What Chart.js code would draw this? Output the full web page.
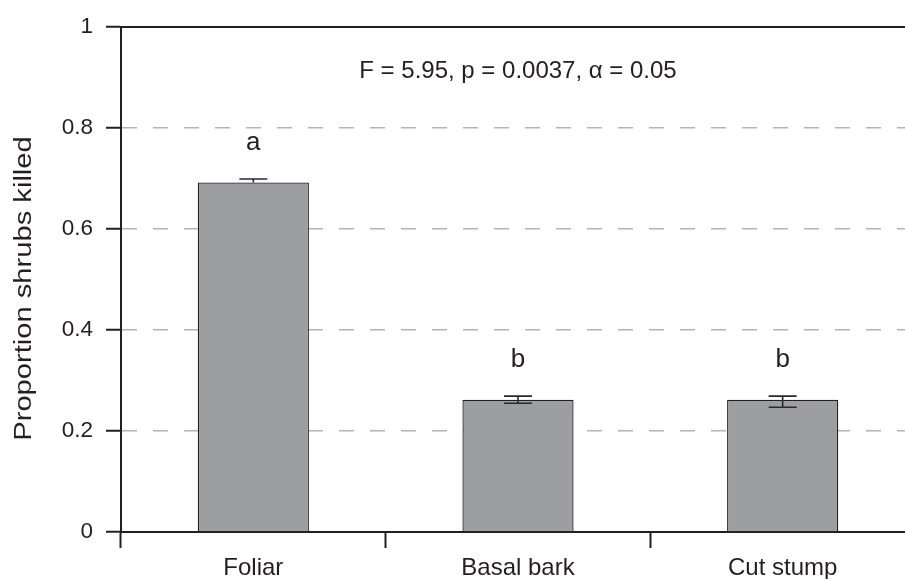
<!DOCTYPE html>
<html>
<head>
<meta charset="utf-8">
<script src="https://cdn.jsdelivr.net/npm/chart.js@4/dist/chart.umd.min.js"></script>
<style>
  html, body { margin: 0; padding: 0; background: #fff; overflow: hidden; }
  #wrap { width: 905px; height: 579px; overflow: hidden; }
  canvas { display: block; }
</style>
</head>
<body>
<div id="wrap"><canvas id="chart" width="920" height="579"></canvas></div>
<script>
// Herbicide application method vs. proportion of shrubs killed
const categories = ['Foliar', 'Basal bark', 'Cut stump'];
const proportionKilled = [0.692, 0.262, 0.262];
const errorUpper = [0.007, 0.007, 0.007];
const errorLower = [0, 0.007, 0.015];
const groupLetters = ['a', 'b', 'b'];
const yTickLabels = ['0', '0.2', '0.4', '0.6', '0.8', '1'];
const yAxisTitle = 'Proportion shrubs killed';
const statsText = 'F = 5.95, p = 0.0037, \u03B1 = 0.05';

const FONT = "'Liberation Sans', Arial, Helvetica, sans-serif";
const INK = '#231f20';

// error bars, significance letters, statistics line and the y-axis title
const annotations = {
  id: 'annotations',
  afterDatasetsDraw(chart) {
    const ctx = chart.ctx;
    const x = chart.scales.x, y = chart.scales.y;
    ctx.save();
    ctx.strokeStyle = '#2a2a2a';
    ctx.lineWidth = 1.6;
    proportionKilled.forEach((v, i) => {
      const cx = x.getPixelForValue(i);
      const top = y.getPixelForValue(v + errorUpper[i]);
      const bot = y.getPixelForValue(v - errorLower[i]);
      const half = 14;
      ctx.beginPath();
      ctx.moveTo(cx, top); ctx.lineTo(cx, bot);
      ctx.moveTo(cx - half, top); ctx.lineTo(cx + half, top);
      if (errorLower[i] > 0) { ctx.moveTo(cx - half, bot); ctx.lineTo(cx + half, bot); }
      ctx.stroke();
    });
    ctx.fillStyle = INK;
    ctx.textAlign = 'center';
    ctx.textBaseline = 'alphabetic';
    ctx.font = '26px ' + FONT;
    groupLetters.forEach((t, i) => {
      const cx = x.getPixelForValue(i);
      const top = y.getPixelForValue(proportionKilled[i] + errorUpper[i]);
      ctx.fillText(t, cx, top - 29);
    });
    ctx.font = '24px ' + FONT;
    ctx.fillText(statsText, x.getPixelForValue(1), y.getPixelForValue(0.9));
    ctx.restore();
  },
  afterDraw(chart) {
    const ctx = chart.ctx;
    const y = chart.scales.y;
    ctx.save();
    ctx.fillStyle = INK;
    ctx.font = '23.5px ' + FONT;
    ctx.textAlign = 'center';
    ctx.textBaseline = 'alphabetic';
    ctx.translate(31, (y.top + y.bottom) / 2 + 9);
    ctx.rotate(-Math.PI / 2);
    ctx.scale(1.24, 1);
    ctx.fillText(yAxisTitle, 0, 0);
    ctx.restore();
  }
};

new Chart(document.getElementById('chart'), {
  type: 'bar',
  data: {
    labels: categories,
    datasets: [{
      data: proportionKilled,
      backgroundColor: '#9d9ea2',
      borderColor: INK,
      borderWidth: 1.3,
      barPercentage: 0.42,
      categoryPercentage: 1.0
    }]
  },
  options: {
    responsive: false,
    animation: false,
    devicePixelRatio: 1,
    layout: { padding: { top: 27, right: 5, bottom: 0, left: 0 } },
    plugins: { legend: { display: false }, tooltip: { enabled: false } },
    scales: {
      x: {
        position: 'bottom',
        offset: true,
        grid: {
          display: true, offset: true, drawOnChartArea: false,
          tickLength: 16, tickWidth: 2, tickColor: INK
        },
        border: { display: true, color: INK, width: 2 },
        ticks: { color: INK, padding: 6, font: { family: FONT, size: 24 } },
        afterFit(s) { s.height = 47; }
      },
      xTop: {
        type: 'category',
        position: 'top',
        labels: categories,
        grid: { display: false },
        border: { display: true, color: INK, width: 2 },
        ticks: { display: false },
        afterFit(s) { s.height = 0; }
      },
      y: {
        min: 0, max: 1,
        ticks: {
          stepSize: 0.2,
          color: INK,
          padding: 13,
          font: { family: FONT, size: 22.5 },
          callback: (v, i) => yTickLabels[i]
        },
        grid: {
          color: c => (c.tick && (c.tick.value === 0 || c.tick.value === 1)) ? 'rgba(0,0,0,0)' : '#b3b3b3',
          lineWidth: 1.5,
          tickLength: 15, tickWidth: 2, tickColor: INK
        },
        border: { display: true, color: INK, width: 2, dash: [15, 16] },
        afterFit(s) { s.width = 121; }
      }
    }
  },
  plugins: [annotations]
});
</script>
</body>
</html>
